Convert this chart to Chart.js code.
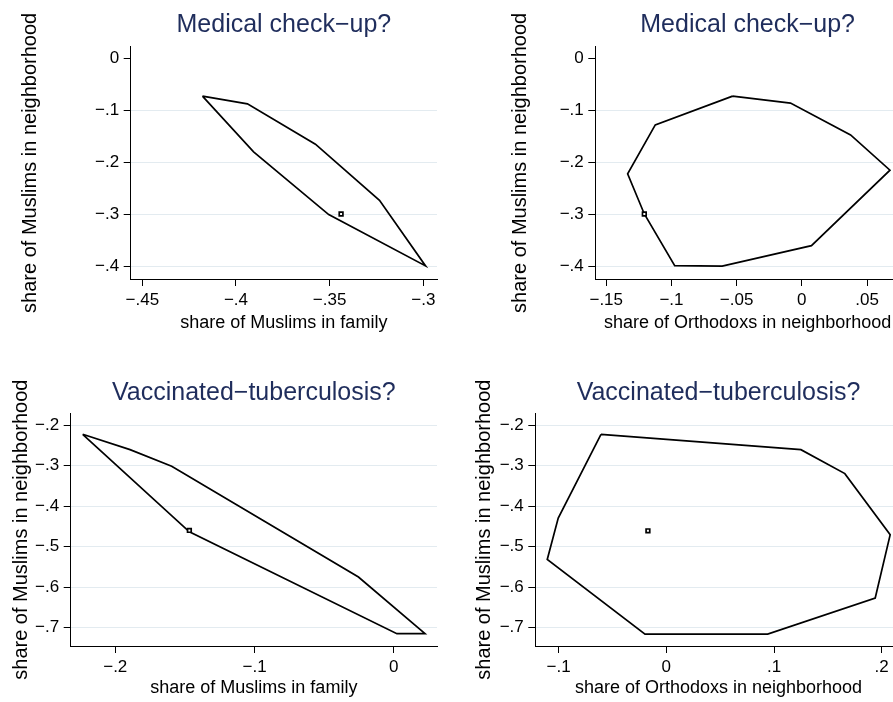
<!DOCTYPE html>
<html>
<head>
<meta charset="utf-8">
<script src="https://cdn.jsdelivr.net/npm/chart.js@4.4.1/dist/chart.umd.min.js"></script>
<style>
  body { margin: 0; width: 893px; height: 702px; overflow: hidden; background: #fff; position: relative; }
  canvas { position: absolute; }
</style>
</head>
<body>
<canvas id="c1" width="446" height="351" style="left:0;top:0"></canvas>
<canvas id="c2" width="470" height="351" style="left:446px;top:0"></canvas>
<canvas id="c3" width="446" height="351" style="left:0;top:351px"></canvas>
<canvas id="c4" width="470" height="351" style="left:446px;top:351px"></canvas>
<script>
const FONT = "'Liberation Sans', Arial, sans-serif";

// Text
const titles = ['Medical check\u2212up?', 'Medical check\u2212up?', 'Vaccinated\u2212tuberculosis?', 'Vaccinated\u2212tuberculosis?'];
const xTitles = ['share of Muslims in family', 'share of Orthodoxs in neighborhood', 'share of Muslims in family', 'share of Orthodoxs in neighborhood'];
const yTitle = 'share of Muslims in neighborhood';

// Hull vertices, in drawing order
const medFamX = [-0.4179, -0.3939, -0.3576, -0.3234, -0.2988, -0.3505, -0.3906];
const medFamY = [-0.0725, -0.0873, -0.1648, -0.2725, -0.3985, -0.3000, -0.1795];
const medOrthX = [-0.0531, -0.0087, 0.0374, 0.0676, 0.0074, -0.0611, -0.0975, -0.1208, -0.1336, -0.1124];
const medOrthY = [-0.0725, -0.0860, -0.1470, -0.2148, -0.3596, -0.3988, -0.3980, -0.2988, -0.2219, -0.1277];
const vacFamX = [-0.2234, -0.1894, -0.1595, -0.0254, 0.0224, 0.0022, -0.1468];
const vacFamY = [-0.2229, -0.2608, -0.3017, -0.5749, -0.7148, -0.7148, -0.4635];
const vacOrthX = [-0.0607, 0.1250, 0.1658, 0.2079, 0.1940, 0.0941, -0.0198, -0.1106, -0.1004];
const vacOrthY = [-0.2229, -0.2608, -0.3199, -0.4707, -0.6268, -0.7157, -0.7157, -0.5318, -0.4296];

// Point estimates (x, y)
const medFamPoint = [-0.3439, -0.2988];
const medOrthPoint = [-0.1208, -0.2988];
const vacFamPoint = [-0.1468, -0.4600];
const vacOrthPoint = [-0.0171, -0.4610];

// Tick labels
const medFamXTicks = [-0.45, -0.4, -0.35, -0.3];
const medOrthXTicks = [-0.15, -0.1, -0.05, 0, 0.05];
const vacFamXTicks = [-0.2, -0.1, 0];
const vacOrthXTicks = [-0.1, 0, 0.1, 0.2];
const medYTicks = [0, -0.1, -0.2, -0.3, -0.4];
const vacYTicks = [-0.2, -0.3, -0.4, -0.5, -0.6, -0.7];

// Stata style numbers: -.45, 0, .05
function fmt(v) {
    const r = Math.round(v * 1000) / 1000;
    if (r === 0) return '0';
    const s = Math.abs(r).toString().replace(/^0/, '');
    return r < 0 ? '\u2212' + s : s;
}

function hull(xs, ys) {
    const pts = xs.map((x, i) => ({ x, y: ys[i] }));
    pts.push(pts[0]);
    return pts;
}

const panels = [
    { id: 'c1', t: 0, hx: medFamX, hy: medFamY, pt: medFamPoint, xt: medFamXTicks, yt: medYTicks,
      xr: [-0.4562, -0.2927], yr: [-0.4236, 0.0223],
      box: { pl: 18, pr: 9, tTop: 10.5, tBot: 6.2, pb: 17.5, yw: 112.7, xh: 54.5 } },
    { id: 'c2', t: 1, hx: medOrthX, hy: medOrthY, pt: medOrthPoint, xt: medOrthXTicks, yt: medYTicks,
      xr: [-0.1584, 0.0753], yr: [-0.4236, 0.0223],
      box: { pl: 62.4, pr: 16, tTop: 10.5, tBot: 6.2, pb: 17.5, yw: 86.9, xh: 54.5 } },
    { id: 'c3', t: 2, hx: vacFamX, hy: vacFamY, pt: vacFamPoint, xt: vacFamXTicks, yt: vacYTicks,
      xr: [-0.232, 0.031], yr: [-0.7451, -0.1711],
      box: { pl: 9.1, pr: 9, tTop: 27.25, tBot: 5.05, pb: 3.1, yw: 61.6, xh: 52.9 } },
    { id: 'c4', t: 3, hx: vacOrthX, hy: vacOrthY, pt: vacOrthPoint, xt: vacOrthXTicks, yt: vacYTicks,
      xr: [-0.1217, 0.2186], yr: [-0.7451, -0.1711],
      box: { pl: 26, pr: 14.3, tTop: 27.25, tBot: 5.05, pb: 3.1, yw: 63.3, xh: 52.9 } }
];

panels.forEach(p => {
    const b = p.box;
    new Chart(document.getElementById(p.id), {
        type: 'scatter',
        data: {
            datasets: [
                {
                    data: [{ x: p.pt[0], y: p.pt[1] }],
                    pointStyle: 'rect', pointRadius: 2.6, borderWidth: 1.7,
                    borderColor: '#000', backgroundColor: '#fff'
                },
                {
                    data: hull(p.hx, p.hy),
                    showLine: true, pointRadius: 0, borderWidth: 1.7,
                    borderColor: '#000', tension: 0, fill: false
                }
            ]
        },
        options: {
            responsive: false,
            animation: false,
            devicePixelRatio: 1,
            layout: { padding: { left: b.pl, right: b.pr, top: 0, bottom: b.pb } },
            plugins: {
                legend: { display: false },
                tooltip: { enabled: false },
                title: {
                    display: true, text: titles[p.t], fullSize: false,
                    color: '#1f2d5c', font: { family: FONT, size: 25, weight: 'normal' },
                    padding: { top: b.tTop, bottom: b.tBot }
                }
            },
            scales: {
                x: {
                    type: 'linear', min: p.xr[0], max: p.xr[1],
                    afterBuildTicks: s => { s.ticks = p.xt.map(v => ({ value: v })); },
                    afterFit: s => { s.height = b.xh; },
                    ticks: { callback: fmt, color: '#000', padding: 4, maxRotation: 0,
                             font: { family: FONT, size: 17 } },
                    grid: { drawOnChartArea: false, tickLength: 7, tickColor: '#000' },
                    border: { color: '#000', width: 1 },
                    title: { display: true, text: xTitles[p.t], color: '#000', padding: 0,
                             font: { family: FONT, size: 18 } }
                },
                y: {
                    type: 'linear', min: p.yr[0], max: p.yr[1],
                    afterBuildTicks: s => { s.ticks = p.yt.map(v => ({ value: v })); },
                    afterFit: s => { s.width = b.yw; },
                    ticks: { callback: fmt, color: '#000', padding: 4.5,
                             font: { family: FONT, size: 17 } },
                    grid: {
                        color: c => (c.tick && c.tick.value === 0) ? 'rgba(0,0,0,0)' : '#e3ebf0',
                        tickLength: 7, tickColor: '#000', lineWidth: 1
                    },
                    border: { color: '#000', width: 1 },
                    title: { display: true, text: yTitle, color: '#000', padding: 0,
                             font: { family: FONT, size: 20 } }
                }
            }
        }
    });
});
</script>
</body>
</html>
